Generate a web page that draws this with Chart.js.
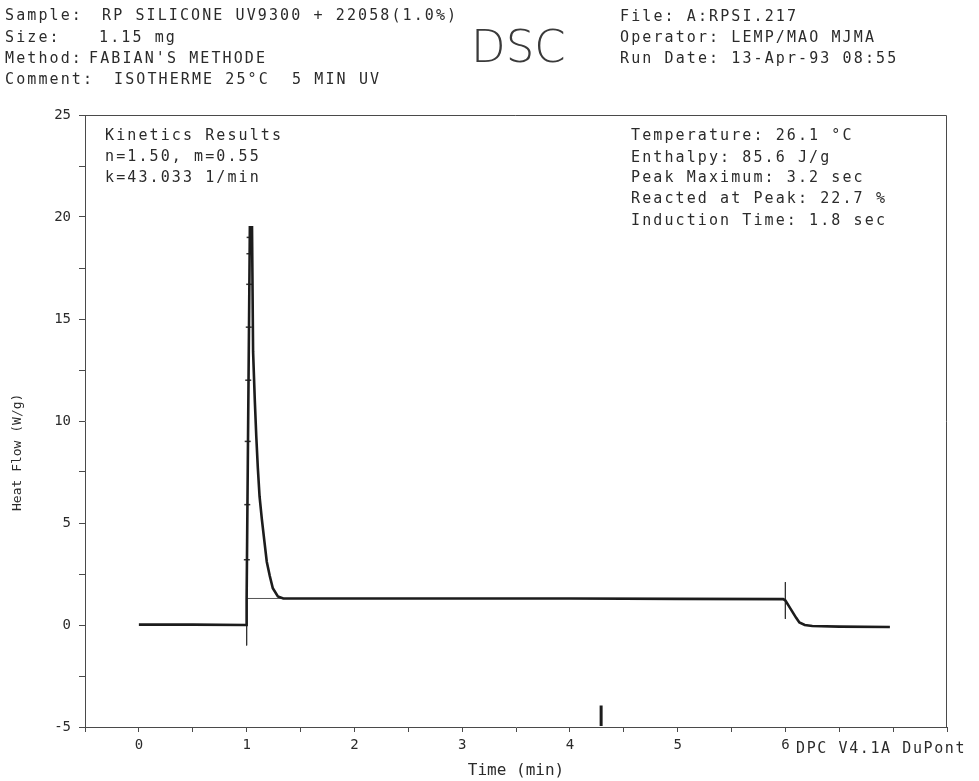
<!DOCTYPE html>
<html>
<head>
<meta charset="utf-8">
<script src="https://cdn.jsdelivr.net/npm/chart.js@4.4.1/dist/chart.umd.min.js"></script>
<style>
html,body{margin:0;padding:0;background:#fff;}
#wrap{position:relative;width:979px;height:781px;overflow:hidden;}
#chart{position:absolute;left:0;top:0;}
.t{position:absolute;font-family:"DejaVu Sans Mono",monospace;font-size:15px;line-height:16px;letter-spacing:2.1px;color:#2b2b2b;white-space:pre;}
#dsc{position:absolute;left:471px;top:24px;font-family:"DejaVu Sans",sans-serif;font-weight:200;font-size:45px;line-height:45px;color:#3a3a3a;letter-spacing:0px;}
</style>
</head>
<body>
<div id="wrap">
<canvas id="chart" width="979" height="781"></canvas>

<div class="t" style="left:5px;top:7px">Sample:</div>
<div class="t" style="left:102px;top:7px">RP SILICONE UV9300 + 22058(1.0%)</div>
<div class="t" style="left:5px;top:29px">Size:</div>
<div class="t" style="left:99px;top:29px">1.15 mg</div>
<div class="t" style="left:5px;top:50px">Method:</div>
<div class="t" style="left:89px;top:50px">FABIAN'S METHODE</div>
<div class="t" style="left:5px;top:71px">Comment:</div>
<div class="t" style="left:114px;top:71px">ISOTHERME 25°C  5 MIN UV</div>

<div id="dsc">DSC</div>

<div class="t" style="left:620px;top:8px">File: A:RPSI.217</div>
<div class="t" style="left:620px;top:29px">Operator: LEMP/MAO MJMA</div>
<div class="t" style="left:620px;top:50px">Run Date: 13-Apr-93 08:55</div>

<div class="t" style="left:105px;top:127px">Kinetics Results</div>
<div class="t" style="left:105px;top:148px">n=1.50, m=0.55</div>
<div class="t" style="left:105px;top:169px">k=43.033 1/min</div>

<div class="t" style="left:631px;top:127px">Temperature: 26.1 °C</div>
<div class="t" style="left:631px;top:149px">Enthalpy: 85.6 J/g</div>
<div class="t" style="left:631px;top:169px">Peak Maximum: 3.2 sec</div>
<div class="t" style="left:631px;top:190px">Reacted at Peak: 22.7 %</div>
<div class="t" style="left:631px;top:212px">Induction Time: 1.8 sec</div>

<div class="t" style="left:796px;top:740px;letter-spacing:1.6px">DPC V4.1A DuPont</div>
</div>

<script>
// main heat flow trace (min, W/g)
const timeMin = [0, 0.5, 0.99, 1.0, 1.0, 1.03, 1.05, 1.06, 1.076, 1.09, 1.104, 1.12, 1.141, 1.165, 1.187, 1.215, 1.243, 1.29, 1.34, 2, 3, 4, 5, 5.98, 6.0, 6.03, 6.06, 6.1, 6.13, 6.18, 6.25, 6.5, 6.97];
const heatFlow = [0.02, 0.02, 0.0, 0.0, 1.3, 19.5, 19.5, 13.4, 11.0, 9.2, 7.7, 6.3, 5.2, 4.1, 3.1, 2.4, 1.8, 1.4, 1.3, 1.3, 1.3, 1.3, 1.28, 1.27, 1.2, 0.95, 0.69, 0.35, 0.12, 0.0, -0.05, -0.08, -0.1];

// small partial-area marks on the rising edge
const markTime = [1.002, 1.006, 1.01, 1.015, 1.02, 1.024, 1.026, 1.028];
const markFlow = [3.2, 5.9, 9.0, 12.0, 14.6, 16.7, 18.2, 19.0];

// extrapolated baseline under the peak
const baseTime = [1.0, 1.36];
const baseFlow = [1.3, 1.3];

// onset / end limit markers and the arrow near the axis
const onsetTime = [1.0, 1.0];
const onsetFlow = [2.0, -1.0];
const endTime = [6.0, 6.0];
const endFlow = [2.1, 0.3];
const arrowTime = [4.29, 4.29];
const arrowFlow = [-3.95, -4.95];

// axes
const xMin = -0.5, xMax = 7.5, xLabels = [0, 1, 2, 3, 4, 5, 6];
const yMin = -5, yMax = 25, yLabels = [-5, 0, 5, 10, 15, 20, 25];

const ink = '#1c1c1c';
const axisInk = '#4a4a4a';
const pts = (xs, ys) => xs.map((x, i) => ({x, y: ys[i]}));

const frame = {
  id: 'frame',
  afterDraw(c) {
    const {ctx, chartArea: a} = c;
    ctx.save();
    ctx.strokeStyle = axisInk;
    ctx.lineWidth = 1;
    ctx.beginPath();
    ctx.moveTo(a.left, a.top + 0.5);
    ctx.lineTo(a.right - 0.5, a.top + 0.5);
    ctx.lineTo(a.right - 0.5, a.bottom);
    ctx.stroke();
    ctx.restore();
  }
};

Chart.defaults.color = '#2b2b2b';
Chart.defaults.font.family = '"DejaVu Sans Mono", monospace';

new Chart(document.getElementById('chart'), {
  type: 'line',
  data: {
    datasets: [
      {data: pts(timeMin, heatFlow), borderColor: ink, borderWidth: 2.6, pointRadius: 0, tension: 0},
      {data: pts(baseTime, baseFlow), borderColor: '#555', borderWidth: 1, pointRadius: 0},
      {data: pts(onsetTime, onsetFlow), borderColor: '#333', borderWidth: 1, pointRadius: 0},
      {data: pts(endTime, endFlow), borderColor: '#333', borderWidth: 1, pointRadius: 0},
      {data: pts(arrowTime, arrowFlow), borderColor: ink, borderWidth: 3, pointRadius: 0},
      {data: pts(markTime, markFlow), showLine: false, pointStyle: 'line', pointRadius: 3,
       borderColor: '#333', borderWidth: 1.5}
    ]
  },
  options: {
    responsive: false,
    animation: false,
    layout: {padding: {top: 115, right: 32, left: 0, bottom: 0}},
    plugins: {legend: {display: false}, tooltip: {enabled: false}},
    scales: {
      x: {
        type: 'linear', min: xMin, max: xMax,
        afterFit: s => { s.height = 54; },
        ticks: {
          stepSize: 0.5, autoSkip: false, maxRotation: 0, padding: 5,
          font: {size: 14},
          callback: v => xLabels.includes(v) ? String(v) : ''
        },
        grid: {drawOnChartArea: false, tickLength: 5, color: axisInk},
        border: {color: axisInk, width: 1},
        title: {display: true, text: 'Time (min)', font: {size: 16}, padding: {top: 0, bottom: 1}}
      },
      y: {
        min: yMin, max: yMax,
        afterFit: s => { s.width = 85; },
        ticks: {
          stepSize: 2.5, autoSkip: false, padding: 8,
          font: {size: 14},
          callback: v => yLabels.includes(v) ? String(v) : ''
        },
        grid: {drawOnChartArea: false, tickLength: 6, color: axisInk},
        border: {color: axisInk, width: 1},
        // trailing spaces push the label down the axis as in the original plot
        title: {display: true, text: 'Heat Flow (W/g)        ', font: {size: 13}, padding: {top: 10, bottom: 0}}
      }
    }
  },
  plugins: [frame]
});
</script>
</body>
</html>
